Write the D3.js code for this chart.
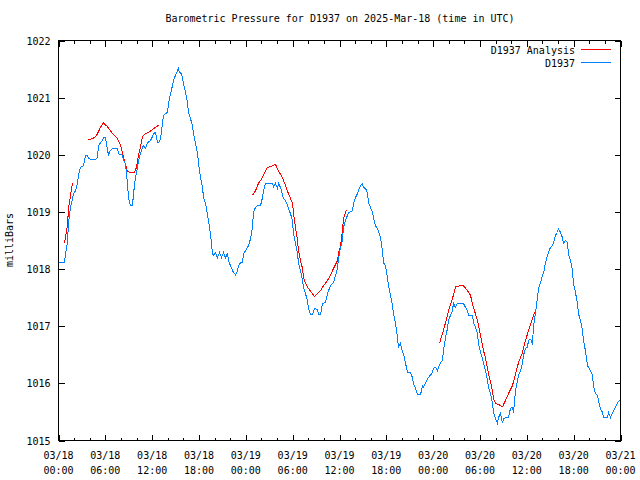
<!DOCTYPE html>
<html><head><meta charset="utf-8">
<script src="https://cdn.jsdelivr.net/npm/d3@7"></script>
<style>
body{margin:0;background:#fff}
text{font-family:"DejaVu Sans Mono","Liberation Mono",monospace;font-size:10px;fill:#000}
</style>
</head><body>
<svg id="chart" width="640" height="480"></svg>
<script>
// ---- data (hours since 2025-03-18 00:00 UTC, millibars) ----
const startTime = Date.UTC(2025, 2, 18, 0, 0);
const blueHours = [0,0.77,0.9,1.15,1.28,1.54,1.79,1.92,2.18,2.43,2.56,2.82,3.2,3.46,3.72,3.84,4.36,4.74,5.0,5.12,5.38,5.64,5.76,6.02,6.28,6.41,6.66,6.92,7.56,7.69,8.2,8.33,8.58,8.84,8.97,9.22,9.48,9.61,9.86,10.12,10.25,10.5,10.76,10.89,11.15,11.4,11.79,12.04,12.17,12.43,12.68,12.81,13.07,13.32,13.45,13.71,13.96,14.09,14.35,14.6,14.73,14.99,15.24,15.37,15.5,15.76,16.01,16.27,16.53,16.65,16.91,17.17,17.29,17.55,17.81,17.94,18.19,18.45,18.58,18.83,19.22,19.47,19.73,19.86,20.11,20.37,20.63,20.88,21.14,21.39,21.65,21.78,22.03,22.42,22.68,22.93,23.06,23.32,23.57,23.7,23.96,24.34,24.6,24.85,24.98,25.24,25.49,25.88,26.13,26.26,26.52,26.77,27.42,27.54,27.8,28.06,28.18,28.44,28.7,28.82,29.08,29.34,29.46,29.72,29.98,30.1,30.36,30.62,30.75,31.0,31.26,31.39,31.64,31.9,32.03,32.28,32.54,32.8,33.18,33.31,33.56,33.82,34.2,34.46,34.59,34.85,35.23,35.49,35.74,35.87,36.13,36.38,36.51,36.77,37.02,37.15,37.66,37.79,38.05,38.3,38.43,38.69,38.94,39.07,39.33,39.58,39.71,39.97,40.23,40.35,40.61,40.87,40.99,41.25,41.51,41.63,41.89,42.15,42.28,42.53,42.79,42.92,43.17,43.43,43.56,43.81,44.07,44.2,44.45,44.71,45.09,45.35,45.48,45.73,45.99,46.38,46.63,46.76,47.02,47.27,47.4,47.91,48.04,48.3,48.55,48.68,48.94,49.19,49.32,49.58,49.83,49.96,50.22,50.47,50.6,50.86,51.11,51.88,52.14,52.4,52.52,53.04,53.16,53.42,53.68,53.81,54.06,54.32,54.45,54.7,54.96,55.09,55.34,55.6,55.73,55.98,56.24,56.37,56.62,56.88,57.01,57.26,57.65,57.9,58.16,58.29,58.55,58.8,58.93,59.19,59.44,59.57,59.83,60.08,60.21,60.47,60.72,60.85,61.11,61.36,61.49,61.75,62.0,62.13,62.39,62.64,62.77,63.03,63.29,63.41,63.67,63.93,64.05,64.31,64.57,64.69,64.95,65.21,65.33,65.59,65.85,65.97,66.23,66.49,66.62,66.87,67.13,67.26,67.51,67.77,67.9,68.15,68.41,68.54,68.79,69.05,69.18,69.43,69.69,69.82,70.33,70.46,70.72,70.97,71.1,71.36,71.61,71.87,72.0];
const blueValues = [1018.11,1018.11,1018.27,1018.46,1018.80,1019.08,1019.23,1019.32,1019.37,1019.50,1019.64,1019.78,1019.81,1019.99,1019.99,1019.93,1019.92,1019.92,1019.95,1020.16,1020.21,1020.25,1020.30,1020.30,1020.08,1020.00,1020.08,1020.11,1020.11,1020.02,1019.99,1019.90,1019.85,1019.50,1019.25,1019.11,1019.11,1019.32,1019.60,1019.78,1019.90,1020.02,1020.13,1020.16,1020.11,1020.21,1020.25,1020.32,1020.37,1020.39,1020.21,1020.21,1020.28,1020.55,1020.69,1020.72,1020.74,1020.90,1021.07,1021.21,1021.30,1021.39,1021.47,1021.51,1021.44,1021.42,1021.25,1021.09,1020.91,1020.74,1020.63,1020.51,1020.37,1020.20,1020.02,1019.85,1019.60,1019.43,1019.25,1019.15,1018.85,1018.62,1018.27,1018.24,1018.29,1018.20,1018.29,1018.20,1018.29,1018.20,1018.27,1018.15,1018.06,1017.94,1017.90,1017.97,1018.06,1018.11,1018.11,1018.27,1018.32,1018.41,1018.53,1018.73,1018.99,1019.08,1019.11,1019.11,1019.25,1019.37,1019.50,1019.50,1019.50,1019.43,1019.50,1019.41,1019.50,1019.43,1019.29,1019.23,1019.20,1019.11,1019.06,1018.97,1018.85,1018.62,1018.45,1018.27,1018.10,1017.97,1017.80,1017.68,1017.57,1017.45,1017.31,1017.20,1017.20,1017.31,1017.29,1017.20,1017.20,1017.40,1017.41,1017.57,1017.62,1017.71,1017.76,1017.89,1018.01,1018.18,1018.38,1018.50,1018.73,1018.85,1018.94,1018.99,1019.02,1019.15,1019.25,1019.32,1019.37,1019.46,1019.50,1019.43,1019.41,1019.34,1019.16,1019.08,1018.99,1018.90,1018.76,1018.71,1018.67,1018.55,1018.32,1018.11,1018.06,1017.85,1017.71,1017.54,1017.36,1017.22,1017.05,1016.80,1016.63,1016.70,1016.54,1016.52,1016.36,1016.19,1016.19,1016.10,1016.00,1015.91,1015.80,1015.80,1015.96,1015.93,1016.00,1016.08,1016.10,1016.19,1016.26,1016.28,1016.22,1016.28,1016.36,1016.40,1016.57,1016.80,1016.96,1017.10,1017.19,1017.27,1017.40,1017.33,1017.40,1017.40,1017.33,1017.27,1017.19,1017.19,1017.06,1016.98,1016.87,1016.70,1016.54,1016.43,1016.35,1016.22,1016.05,1015.93,1015.82,1015.65,1015.49,1015.38,1015.30,1015.40,1015.47,1015.31,1015.38,1015.40,1015.40,1015.56,1015.58,1015.49,1015.87,1016.05,1016.14,1016.22,1016.35,1016.49,1016.61,1016.63,1016.75,1016.77,1016.70,1016.98,1017.24,1017.50,1017.66,1017.76,1017.90,1017.92,1018.11,1018.24,1018.29,1018.38,1018.41,1018.46,1018.59,1018.64,1018.71,1018.64,1018.55,1018.45,1018.50,1018.46,1018.27,1018.15,1017.97,1017.76,1017.59,1017.40,1017.22,1017.10,1016.92,1016.75,1016.57,1016.31,1016.28,1016.22,1016.14,1015.96,1015.82,1015.79,1015.70,1015.56,1015.49,1015.40,1015.40,1015.49,1015.40,1015.49,1015.51,1015.58,1015.66,1015.70,1015.70];
const redHours = [0.77,1.15,1.28,1.54,1.79,2.7,3.72,4.36,4.74,5.0,5.38,5.76,6.28,6.66,7.05,7.56,7.81,8.07,8.33,8.58,8.84,9.22,9.74,9.99,10.25,10.5,10.76,11.15,11.53,12.04,12.43,12.94,18.0,24.85,25.24,25.62,26.13,26.52,26.77,27.16,27.8,28.18,28.7,29.08,29.46,29.98,30.1,30.36,30.62,30.75,31.0,31.26,31.39,31.64,32.03,32.54,32.8,33.18,33.56,33.95,34.46,34.85,35.23,35.74,35.87,36.13,36.38,36.51,36.9,42.0,48.81,49.19,49.58,49.96,50.47,50.86,51.5,51.88,52.4,52.78,53.16,53.68,54.06,54.45,54.7,55.09,55.6,55.73,55.98,56.37,56.88,57.26,57.65,58.16,58.55,58.93,59.44,59.83,60.21,60.72,60.98];
const redValues = [1018.46,1018.76,1019.06,1019.29,1019.50,null,1020.27,1020.28,1020.32,1020.37,1020.48,1020.56,1020.49,1020.42,1020.35,1020.28,1020.21,1020.11,1019.95,1019.83,1019.71,1019.69,1019.69,1019.78,1019.99,1020.13,1020.32,1020.37,1020.39,1020.44,1020.48,1020.53,null,1019.29,1019.37,1019.50,1019.60,1019.72,1019.78,1019.79,1019.83,1019.72,1019.60,1019.46,1019.32,1019.15,1018.99,1018.73,1018.50,1018.32,1018.15,1018.01,1017.85,1017.75,1017.66,1017.57,1017.52,1017.57,1017.62,1017.71,1017.80,1017.89,1018.01,1018.15,1018.27,1018.41,1018.67,1018.88,1019.04,null,1016.70,1016.87,1017.06,1017.27,1017.48,1017.69,1017.71,1017.71,1017.62,1017.54,1017.33,1017.10,1016.84,1016.57,1016.45,1016.17,1015.87,1015.73,1015.65,1015.63,1015.59,1015.70,1015.82,1015.96,1016.17,1016.36,1016.54,1016.75,1016.92,1017.13,1017.24];
const yTicks = [1015,1016,1017,1018,1019,1020,1021,1022];
const xTickHours = [0,6,12,18,24,30,36,42,48,54,60,66,72];
const xMinorHours = d3.range(0, 73, 2);
const titleText = "Barometric Pressure for D1937 on 2025-Mar-18 (time in UTC)";
const yLabelText = "milliBars";
const seriesNames = ["D1937 Analysis", "D1937"];
const seriesColors = ["#ff0000", "#0080ff"];

// ---- build ----
const toDate = h => new Date(startTime + h * 3600000);
const blue = blueHours.map((h, i) => ({t: toDate(h), v: blueValues[i]}));
const red = redHours.map((h, i) => ({t: toDate(h), v: redValues[i]}));

const L = 58.5, T = 40.5, W = 562, H = 400;
const svg = d3.select("#chart");
const x = d3.scaleUtc().domain([toDate(0), toDate(72)]).range([L, L + W]);
const y = d3.scaleLinear().domain([1015, 1022]).range([T + H, T]);

// title
svg.append("text").attr("x", 340).attr("y", 22).attr("text-anchor", "middle").text(titleText);
// y label
svg.append("text").attr("transform", "translate(13,240) rotate(-90)").attr("text-anchor", "middle").text(yLabelText);

// axes (inward ticks, mirrored)
const g = svg.append("g");
const mk = (sel) => sel.call(s => s.select(".domain").remove()).selectAll("line").attr("stroke", "#000").attr("shape-rendering", "crispEdges");
g.append("g").attr("transform", `translate(0,${T + H})`).call(d3.axisBottom(x).tickValues(xMinorHours.map(toDate)).tickSize(-3).tickFormat("")).call(mk);
g.append("g").attr("transform", `translate(0,${T})`).call(d3.axisTop(x).tickValues(xMinorHours.map(toDate)).tickSize(-3).tickFormat("")).call(mk);
g.append("g").attr("transform", `translate(0,${T + H})`).call(d3.axisBottom(x).tickValues(xTickHours.map(toDate)).tickSize(-6).tickFormat("")).call(mk);
g.append("g").attr("transform", `translate(0,${T})`).call(d3.axisTop(x).tickValues(xTickHours.map(toDate)).tickSize(-6).tickFormat("")).call(mk);
g.append("g").attr("transform", `translate(${L},0)`).call(d3.axisLeft(y).tickValues(yTicks).tickSize(-6).tickFormat("")).call(mk);
g.append("g").attr("transform", `translate(${L + W},0)`).call(d3.axisRight(y).tickValues(yTicks).tickSize(-6).tickFormat("")).call(mk);

// y tick labels
svg.append("g").selectAll("text").data(yTicks).join("text")
  .attr("x", L - 8).attr("y", d => y(d) + 4).attr("text-anchor", "end").text(d => d);
// x tick labels
const fmtD = d3.utcFormat("%m/%d"), fmtT = d3.utcFormat("%H:%M");
const xl = svg.append("g").selectAll("g").data(xTickHours.map(toDate)).join("g");
xl.append("text").attr("x", d => x(d)).attr("y", 459).attr("text-anchor", "middle").text(d => fmtD(d));
xl.append("text").attr("x", d => x(d)).attr("y", 474).attr("text-anchor", "middle").text(d => fmtT(d));

// lines (aliased, like the original)
const line = d3.line().defined(d => d.v !== null).x(d => x(d.t)).y(d => y(d.v));
svg.append("path").datum(red).attr("d", line).attr("fill", "none").attr("stroke", seriesColors[0]).attr("stroke-width", 1).attr("shape-rendering", "crispEdges");
svg.append("path").datum(blue).attr("d", line).attr("fill", "none").attr("stroke", seriesColors[1]).attr("stroke-width", 1).attr("shape-rendering", "crispEdges");

// border
svg.append("rect").attr("x", L).attr("y", T).attr("width", W).attr("height", H)
  .attr("fill", "none").attr("stroke", "#000").attr("shape-rendering", "crispEdges");

// legend
const leg = svg.append("g").selectAll("g").data(seriesNames).join("g")
  .attr("transform", (d, i) => `translate(0,${49.5 + i * 13})`);
leg.append("text").attr("x", 575).attr("y", 4).attr("text-anchor", "end").text(d => d);
leg.append("line").attr("x1", 581).attr("x2", 611).attr("y1", 0).attr("y2", 0)
  .attr("stroke", (d, i) => seriesColors[i]).attr("shape-rendering", "crispEdges");
</script>
</body></html>
